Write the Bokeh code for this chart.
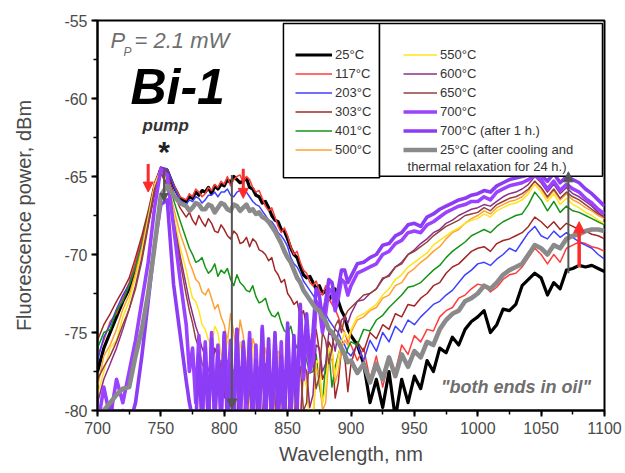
from bokeh.plotting import figure
from bokeh.models import (Range1d, SingleIntervalTicker, Legend, LegendItem,
                          Label, Arrow, NormalHead, BoxAnnotation)
from bokeh.embed import file_html
from bokeh.resources import INLINE

# ---------------- data ----------------
# sampling: 5 nm, except 2.5 nm in the noisy 770-900 nm stretch
wavelength = ([700 + 5 * i for i in range(14)]
              + [770 + 2.5 * i for i in range(53)]
              + [905 + 5 * i for i in range(40)])

s25 = [-77.5, -76.0, -75.0, -74.0, -73.0, -72.2, -71.0, -69.5, -67.8, -65.8, -64.5, -64.6, -65.6, -66.4,
       -66.6, -66.3, -66.4, -66.0, -66.2, -65.9, -66.0, -65.7, -66.1, -65.6,
       -65.8, -65.5, -65.6, -65.2, -65.4, -65.0, -65.2, -65.4, -65.3, -65.1,
       -65.7, -65.8, -66.2, -66.3, -66.7, -66.6, -67.0, -67.5, -67.8, -67.9,
       -68.4, -68.5, -69.0, -69.6, -70.0, -70.2, -70.8, -71.3, -71.5, -71.4,
       -71.8, -72.2, -72.0, -72.5, -72.3, -72.9, -72.6, -72.2, -73.0, -73.6,
       -74.0, -74.8, -75.2,
       -75.8, -77.0, -79.5, -78.0, -79.8, -77.5, -80.5, -78.0, -79.5,
       -77.8, -78.6, -76.8, -77.5, -76.0, -76.3, -75.3, -75.8, -74.8, -74.3,
       -74.0, -73.6, -75.0, -74.5, -73.5, -73.6, -73.2, -72.0, -71.6, -71.2,
       -71.5, -72.6, -71.8, -72.2, -71.0, -70.9, -70.7, -70.8, -70.7, -70.9,
       -71.1]
s117 = [-76.5, -75.5, -74.3, -73.8, -72.8, -71.8, -70.5, -69.0, -67.5, -65.5, -64.4, -64.6, -65.5, -66.3,
        -66.5, -66.1, -66.3, -65.8, -66.0, -66.3, -66.1, -65.7, -65.9, -65.5,
        -65.7, -65.3, -65.5, -65.0, -65.6, -65.2, -65.0, -64.9, -65.4, -65.0,
        -65.2, -65.7, -66.0, -65.9, -66.4, -66.9, -67.2, -67.0, -67.6, -68.2,
        -68.6, -68.3, -68.8, -69.5, -70.0, -69.8, -70.5, -71.0, -71.2, -71.8,
        -72.0, -71.7, -72.3, -72.6, -72.0, -72.8, -73.2, -73.5, -74.0, -74.6,
        -75.0, -75.6, -75.8,
        -76.8, -76.0, -78.0, -76.5, -78.5, -76.8, -77.5, -75.8, -76.4,
        -75.2, -75.6, -74.8, -74.9, -74.0, -73.6, -73.4, -72.8, -72.6, -72.2,
        -71.9, -72.0, -72.4, -72.1, -71.6, -71.3, -71.2, -70.8, -70.2, -69.6,
        -70.0, -70.6, -70.0, -70.5, -69.6, -69.4, -69.2, -69.3, -69.5, -69.6,
        -69.8]
s203 = [-76.8, -75.3, -74.5, -73.5, -72.6, -71.9, -70.8, -69.3, -67.6, -65.6, -64.4, -64.5, -65.6, -66.5,
        -66.8, -66.5, -66.6, -66.3, -66.4, -66.7, -66.5, -66.2, -66.2, -66.0,
        -66.3, -66.0, -66.0, -65.8, -66.2, -66.3, -66.0, -65.9, -66.1, -66.0,
        -66.3, -66.6, -66.8, -66.9, -67.2, -67.5, -67.8, -67.9, -68.2, -68.6,
        -68.8, -69.1, -69.5, -70.2, -70.6, -70.8, -71.2, -71.7, -72.0, -72.3,
        -72.6, -72.9, -73.2, -73.6, -73.8, -74.2, -74.5, -74.8, -75.0, -75.5,
        -75.8, -76.3, -76.5,
        -75.8, -76.8, -75.5, -76.2, -75.0, -75.6, -74.6, -75.0, -74.2,
        -74.5, -74.0, -73.6, -73.2, -73.0, -72.6, -72.3, -71.8, -71.3, -71.0,
        -70.6, -70.5, -70.7, -70.3, -70.0, -69.6, -69.8, -69.2, -68.6, -68.2,
        -68.8, -69.0, -68.5, -68.9, -68.6, -68.9, -69.2, -69.4, -69.6, -70.0,
        -70.3]
s303 = [-75.5, -74.5, -73.8, -73.0, -72.3, -71.5, -70.2, -68.8, -67.2, -65.4, -64.4, -64.7, -66.0, -67.0,
        -67.6, -67.3, -67.8, -68.1, -67.5, -67.9, -68.2, -67.7, -68.0, -68.5,
        -68.6, -68.1, -68.4, -68.8, -69.0, -68.5, -68.7, -69.3, -69.2, -68.9,
        -69.5, -69.0, -69.2, -69.7, -69.8, -70.0, -70.4, -70.2, -71.0, -71.3,
        -71.8, -71.6, -72.5, -72.8, -73.2, -73.0, -74.0, -73.6, -74.6, -75.8,
        -75.5, -74.8, -76.2, -78.0, -77.5, -75.6, -76.0, -79.2, -78.2, -76.0,
        -76.5, -78.8, -77.0,
        -75.6, -76.2, -75.0, -75.4, -74.5, -74.8, -73.8, -74.0, -73.2,
        -73.3, -72.8, -72.5, -72.0, -71.8, -71.2, -70.8, -70.6, -70.2, -69.8,
        -69.6, -69.5, -69.8, -69.3, -69.1, -69.0, -68.8, -68.6, -68.2, -67.6,
        -67.9, -68.3, -67.9, -68.4, -68.0, -68.2, -68.4, -68.5, -68.7, -68.8,
        -69.0]
s401 = [-76.0, -75.0, -74.8, -73.6, -73.0, -72.0, -70.8, -69.4, -67.5, -65.6, -64.5, -65.0, -66.5, -67.8,
        -69.0, -69.6, -70.0, -70.5, -70.4, -70.2, -70.8, -71.2, -71.0, -70.6,
        -71.4, -71.0, -71.2, -70.9, -71.6, -72.0, -71.3, -71.8, -72.0, -72.3,
        -72.4, -72.0, -72.7, -73.1, -73.0, -72.8, -73.5, -73.9, -74.0, -73.7,
        -74.4, -74.9, -75.0, -74.6, -75.5, -76.0, -76.2, -75.6, -76.8, -77.6,
        -77.5, -76.4, -78.4, -79.5, -77.0, -76.2, -78.5, -77.2, -76.4, -75.8,
        -76.8, -76.0, -75.6,
        -75.8, -74.8, -74.9, -74.2, -73.9, -73.4, -73.0, -72.6, -72.1,
        -72.0, -71.8, -71.4, -71.0, -70.7, -70.2, -69.8, -69.5, -69.2, -68.8,
        -68.6, -68.4, -68.6, -68.2, -67.9, -67.7, -67.5, -67.4, -66.8, -66.0,
        -66.5, -67.2, -66.6, -67.3, -66.9, -67.2, -67.3, -67.5, -67.7, -67.9,
        -68.1]
s500 = [-78.5, -76.5, -75.8, -74.8, -73.5, -72.6, -71.2, -69.6, -67.6, -65.5, -64.5, -65.2, -67.0, -68.6,
        -69.8, -70.5, -71.0, -71.6, -71.8, -72.4, -72.6, -72.2, -72.8, -73.5,
        -73.2, -74.0, -74.5, -75.6, -73.8, -75.0, -76.5, -74.2, -75.2, -77.0,
        -77.8, -75.4, -76.0, -79.0, -78.5, -76.0, -76.8, -80.5, -79.5, -76.2,
        -77.0, -79.8, -81.0, -77.0, -77.5, -81.0, -80.5, -76.8, -78.0, -80.8,
        -81.0, -77.2, -77.8, -80.0, -79.5, -76.5, -76.8, -78.2, -77.5, -76.0,
        -75.5, -75.8, -75.0,
        -74.2, -74.0, -73.6, -73.4, -72.8, -72.6, -72.0, -71.8, -71.2,
        -70.9, -70.5, -70.2, -69.8, -69.5, -69.0, -68.6, -68.4, -68.0, -67.7,
        -67.5, -67.2, -67.4, -67.0, -66.8, -66.6, -66.5, -66.3, -65.9, -65.3,
        -65.8, -66.4, -65.9, -66.5, -66.1, -66.5, -66.7, -67.0, -67.2, -67.5,
        -67.7]
s550 = [-79.0, -77.5, -76.0, -75.5, -74.0, -73.0, -71.5, -69.8, -67.8, -65.6, -64.6, -65.3, -67.4, -69.5,
        -71.0, -72.0, -72.8, -73.0, -73.6, -74.5, -74.8, -75.5, -75.8, -74.6,
        -75.0, -76.4, -77.0, -75.4, -76.2, -78.8, -78.5, -75.6, -76.5, -80.2,
        -79.8, -76.0, -75.8, -79.0, -81.0, -77.2, -78.0, -81.0, -80.5, -76.4,
        -76.5, -79.5, -81.0, -78.0, -77.0, -80.5, -81.0, -77.8, -78.5, -81.0,
        -80.5, -76.8, -77.0, -79.5, -78.6, -76.0, -76.2, -77.8, -76.5, -75.6,
        -75.0, -75.4, -74.8,
        -74.0, -73.8, -73.5, -73.2, -72.6, -72.2, -71.6, -71.3, -70.8,
        -70.5, -70.2, -69.9, -69.4, -69.1, -68.8, -68.5, -68.3, -68.0, -67.8,
        -67.7, -67.4, -67.6, -67.2, -67.0, -66.8, -66.7, -66.5, -66.1, -65.5,
        -66.0, -66.6, -66.1, -66.8, -66.4, -66.8, -67.0, -67.3, -67.5, -67.8,
        -68.0]
s600 = [-79.5, -78.0, -77.0, -76.0, -74.8, -73.5, -72.0, -70.2, -68.0, -65.8, -64.7, -65.5, -67.8, -70.0,
        -72.0, -73.0, -73.8, -74.6, -75.2, -76.0, -76.5, -77.4, -77.8, -76.0,
        -76.6, -78.5, -79.2, -76.8, -77.5, -80.8, -80.5, -77.2, -78.0, -81.0,
        -81.0, -77.6, -78.8, -81.0, -80.5, -77.0, -77.6, -80.6, -81.0, -78.0,
        -79.0, -81.0, -80.8, -77.6, -78.2, -81.0, -81.0, -77.0, -77.5, -79.8,
        -79.0, -75.8, -76.0, -77.5, -77.0, -75.0, -75.2, -76.2, -75.0, -74.2,
        -74.0, -74.4, -73.8,
        -73.0, -72.9, -72.5, -72.2, -71.6, -71.3, -70.8, -70.5, -70.0,
        -69.7, -69.3, -69.0, -68.6, -68.4, -68.0, -67.8, -67.5, -67.3, -67.1,
        -67.0, -66.8, -66.9, -66.6, -66.3, -66.1, -66.0, -65.8, -65.5, -65.0,
        -65.4, -66.0, -65.5, -66.1, -65.7, -66.1, -66.3, -66.6, -66.9, -67.3,
        -67.6]
s650 = [-78.0, -77.2, -76.5, -75.6, -74.5, -73.5, -72.2, -70.4, -68.2, -66.0, -64.8, -65.6, -68.0, -70.4,
        -72.6, -73.6, -74.4, -75.4, -76.0, -77.0, -77.4, -78.6, -76.5, -77.8,
        -79.0, -76.8, -77.8, -80.2, -80.5, -77.4, -78.2, -81.0, -81.0, -77.6,
        -78.8, -81.0, -80.6, -77.2, -77.8, -80.4, -81.0, -78.0, -79.2, -81.0,
        -80.8, -77.4, -78.0, -80.6, -81.0, -76.8, -77.2, -80.0, -79.5, -75.8,
        -76.6, -78.6, -77.8, -75.0, -75.5, -77.0, -76.0, -74.6, -74.2, -75.0,
        -74.0, -73.6, -73.4,
        -73.0, -72.6, -72.5, -72.2, -71.5, -71.4, -70.8, -70.6, -70.0,
        -69.8, -69.5, -69.2, -68.8, -68.5, -68.2, -68.0, -67.8, -67.5, -67.4,
        -67.3, -67.0, -67.2, -66.8, -66.6, -66.4, -66.3, -66.1, -65.8, -65.3,
        -65.7, -66.3, -65.8, -66.4, -66.0, -66.3, -66.5, -66.8, -67.1, -67.4,
        -67.6]
s700 = [-81.0, -78.5, -80.5, -78.0, -79.5, -77.5, -75.5, -73.0, -70.5, -67.0, -64.5, -64.9, -68.2, -71.5,
        -74.5, -77.5, -76.0, -79.5, -75.2, -81.0, -75.6, -81.0, -75.0, -80.5,
        -75.8, -81.0, -75.2, -79.0, -75.5, -81.0, -74.8, -80.5, -76.0, -81.0,
        -75.0, -81.0, -75.8, -80.2, -74.6, -81.0, -76.2, -81.0, -75.2, -80.0,
        -75.6, -81.0, -74.8, -80.5, -76.0, -79.5, -73.8, -78.0, -74.5, -77.5,
        -76.8, -73.0, -73.4, -75.0, -73.8, -72.2, -72.4, -73.6, -72.8, -71.6,
        -71.8, -72.6, -72.0,
        -71.2, -71.0, -70.8, -70.6, -70.0, -69.8, -69.3, -69.1, -68.6,
        -68.5, -68.6, -68.1, -67.9, -67.6, -67.3, -67.1, -66.9, -66.8, -66.6,
        -66.6, -66.3, -66.5, -66.0, -65.8, -65.6, -65.5, -65.4, -65.2, -64.9,
        -65.2, -65.8, -65.3, -65.9, -65.5, -65.8, -66.0, -66.4, -66.7, -67.1,
        -67.4]
s700_1h = [-80.5, -81.0, -79.5, -81.0, -80.0, -81.0, -79.5, -76.5, -73.0, -69.4, -66.8, -66.5, -71.9, -75.0,
           -78.1, -79.5, -80.5, -81.0, -76.4, -81.0, -76.0, -81.0, -75.4, -81.0,
           -76.2, -80.5, -75.0, -81.0, -77.0, -81.0, -74.8, -81.0, -75.6, -79.5,
           -75.4, -81.0, -76.8, -81.0, -74.8, -80.5, -75.4, -81.0, -75.0, -81.0,
           -76.5, -81.0, -74.4, -80.6, -75.2, -80.0, -73.2, -77.5, -73.8, -76.8,
           -75.0, -72.2, -72.6, -74.2, -73.0, -71.6, -71.8, -73.0, -72.2, -71.0,
           -71.0, -71.8, -71.4,
           -70.6, -70.5, -70.2, -70.0, -69.4, -69.3, -68.8, -68.6, -68.1,
           -68.0, -68.2, -67.6, -67.4, -67.1, -66.9, -66.7, -66.5, -66.4, -66.2,
           -66.1, -65.9, -66.0, -65.6, -65.4, -65.2, -65.1, -65.0, -64.9, -64.6,
           -64.9, -65.3, -64.8, -65.4, -65.0, -65.2, -65.4, -65.8, -66.1, -66.5,
           -66.9]
s25_after = [-81.0, -80.0, -79.5, -79.0, -78.6, -78.5, -76.5, -74.8, -72.5, -69.5, -66.2, -65.6, -66.2, -66.7,
             -66.9, -67.2, -67.0, -66.7, -66.8, -67.1, -67.1, -66.8, -66.9, -67.3,
             -67.0, -66.7, -66.8, -67.1, -67.2, -66.8, -66.9, -67.2, -67.0, -66.8,
             -67.2, -67.1, -67.4, -67.3, -67.6, -67.7, -67.9, -68.2, -68.5, -68.9,
             -69.3, -69.8, -70.2, -70.5, -71.0, -71.5, -71.8, -72.3, -72.6, -72.9,
             -73.2, -73.5, -73.6, -74.0, -74.3, -74.8, -75.0, -75.3, -75.6, -76.0,
             -76.4, -76.9, -76.8,
             -77.6, -77.0, -78.2, -77.0, -78.0, -76.6, -77.8, -76.4, -77.2,
             -76.2, -76.6, -75.6, -75.8, -74.8, -74.2, -73.8, -73.6, -73.0, -72.8,
             -72.5, -72.0, -72.2, -71.8, -71.3, -71.0, -70.8, -70.6, -70.0, -69.4,
             -69.6, -70.0, -69.4, -69.6, -69.0, -68.8, -68.7, -68.5, -68.4, -68.4,
             -68.5]

labels_col1 = ["25°C", "117°C", "203°C", "303°C", "401°C", "500°C"]
labels_col2 = ["550°C", "600°C", "650°C", "700°C", "700°C (after 1 h.)",
               "25°C (after cooling and"]
label_extra = "thermal relaxation for 24 h.)"

y_ticks = [-80, -75, -70, -65, -60, -55]
y_tick_labels = ["-80", "-75", "-70", "-65", "-60", "-55"]

FONT = "Liberation Sans"

series = [
    (s25, "#000000", 3.2),
    (s117, "#ff3b3b", 1.5),
    (s203, "#3f3fff", 1.5),
    (s303, "#a32626", 1.5),
    (s401, "#149414", 1.5),
    (s500, "#ffa032", 1.5),
    (s550, "#ffe41c", 1.5),
    (s600, "#8c2f8c", 1.5),
    (s650, "#94403c", 1.5),
    (s700, "#9b42ff", 3.6),
    (s700_1h, "#8c3cf5", 3.6),
    (s25_after, "#8a8a8a", 4.6),
]
for vals, _, _ in series:
    assert len(vals) == len(wavelength), len(vals)

p = figure(width=625, height=473, x_range=Range1d(700, 1100),
           y_range=Range1d(-80, -55), output_backend="svg",
           toolbar_location=None, min_border_left=97, min_border_right=21,
           min_border_top=20, min_border_bottom=63)
p.xgrid.visible = False
p.ygrid.visible = False
p.outline_line_color = "black"
p.outline_line_width = 2
p.background_fill_color = "white"
p.border_fill_color = "white"

renderers = []
for vals, col, lw in series:
    r = p.line(wavelength, vals, line_color=col, line_width=lw, line_join="round")
    renderers.append(r)

# axes
p.xaxis.ticker = SingleIntervalTicker(interval=50, num_minor_ticks=2)
p.yaxis.ticker = SingleIntervalTicker(interval=5, num_minor_ticks=2)
p.yaxis.major_label_overrides = {v: t for v, t in zip(y_ticks, y_tick_labels)}
for ax in (p.xaxis[0], p.yaxis[0]):
    ax.axis_line_width = 2
    ax.axis_line_color = "black"
    ax.major_tick_line_width = 2
    ax.minor_tick_line_width = 1.5
    ax.major_tick_in = 0
    ax.major_tick_out = 6
    ax.minor_tick_in = 0
    ax.minor_tick_out = 4
    ax.major_label_text_font = FONT
    ax.major_label_text_font_size = "16px"
    ax.major_label_text_color = "#4a4a4a"
    ax.axis_label_text_font = FONT
    ax.axis_label_text_font_size = "20px"
    ax.axis_label_text_font_style = "normal"
    ax.axis_label_text_color = "#4a4a4a"
p.xaxis.axis_label = "Wavelength, nm"
p.yaxis.axis_label = "Fluorescence power, dBm"
p.xaxis.major_label_standoff = 5
p.yaxis.major_label_standoff = 4
p.xaxis.axis_label_standoff = 6
p.yaxis.axis_label_standoff = 26

# legend boxes
p.add_layout(BoxAnnotation(left=846.7, right=922.5, top=-55.19, bottom=-65.08,
                           fill_color="white", fill_alpha=1.0,
                           line_color="black", line_alpha=1.0, line_width=1.5))
p.add_layout(BoxAnnotation(left=922.5, right=1098.4, top=-55.19, bottom=-64.98,
                           fill_color="white", fill_alpha=1.0,
                           line_color="black", line_alpha=1.0, line_width=1.5))

leg_kw = dict(orientation="vertical", padding=0, margin=0, spacing=0,
              glyph_height=19, label_height=19, label_standoff=3,
              label_text_font=FONT, label_text_font_size="13px",
              label_text_color="#333333", border_line_alpha=0,
              background_fill_alpha=0)
leg1 = Legend(items=[LegendItem(label=t, renderers=[r])
                     for t, r in zip(labels_col1, renderers[:6])],
              location=(198, 251), glyph_width=37, **leg_kw)
leg2 = Legend(items=[LegendItem(label=t, renderers=[r])
                     for t, r in zip(labels_col2, renderers[6:])],
              location=(306, 251), glyph_width=34, **leg_kw)
p.add_layout(leg1)
p.add_layout(leg2)
p.add_layout(Label(x=944.6, y=-64.33, text=label_extra, text_font=FONT,
                   text_font_size="13px", text_color="#333333",
                   text_baseline="alphabetic"))

# annotations
gray_txt = "#6e6e6e"
p.add_layout(Label(x=710.3, y=-56.28, text="P", text_font=FONT,
                   text_font_size="22px", text_font_style="italic",
                   text_color=gray_txt, text_baseline="alphabetic"))
p.add_layout(Label(x=720.5, y=-57.02, text="P", text_font=FONT,
                   text_font_size="12px", text_font_style="italic",
                   text_color=gray_txt, text_baseline="alphabetic"))
p.add_layout(Label(x=729.2, y=-56.28, text="= 2.1 mW", text_font=FONT,
                   text_font_size="22px", text_font_style="italic",
                   text_color=gray_txt, text_baseline="alphabetic"))
p.add_layout(Label(x=726.0, y=-59.27, text="Bi-1", text_font=FONT,
                   text_font_size="50px", text_font_style="bold italic",
                   text_color="black", text_baseline="alphabetic"))
p.add_layout(Label(x=735.5, y=-61.72, text="pump", text_font=FONT,
                   text_font_size="17px", text_font_style="bold italic",
                   text_color="#333333", text_baseline="alphabetic"))
p.add_layout(Label(x=752.5, y=-63.4, text="*", text_font=FONT,
                   text_font_size="30px", text_font_style="bold",
                   text_color="#222222", text_align="center",
                   text_baseline="alphabetic"))
p.add_layout(Label(x=1030.2, y=-78.48, text="\"both ends in oil\"", text_font=FONT,
                   text_font_size="18px", text_font_style="bold italic",
                   text_color=gray_txt, text_align="center",
                   text_baseline="alphabetic"))

# arrows
def arrow(x0, y0, x1, y1, col, lw, size):
    p.add_layout(Arrow(end=NormalHead(size=size, fill_color=col, line_color=col),
                       x_start=x0, y_start=y0, x_end=x1, y_end=y1,
                       line_color=col, line_width=lw))

arrow(806, -64.9, 806, -79.9, "#555555", 2, 10)
arrow(1071.5, -71.2, 1071.5, -64.7, "#555555", 2, 10)
arrow(752.5, -64.6, 752.5, -66.6, "#555555", 2, 8)
arrow(740, -64.2, 740, -66.0, "#ff2a2a", 3, 10)
arrow(815, -64.5, 815, -66.4, "#ff2a2a", 3, 10)
arrow(1080, -70.8, 1080, -67.9, "#ff2a2a", 3.5, 11)

open("out.html", "w").write(file_html(p, INLINE))
